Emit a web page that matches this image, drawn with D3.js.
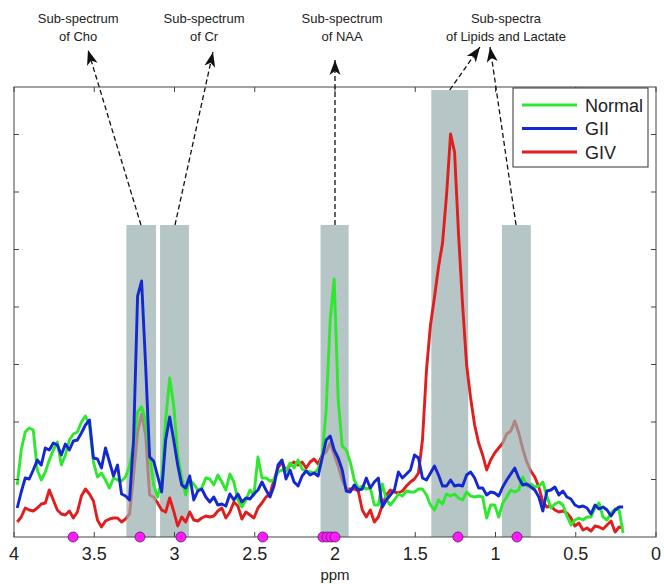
<!DOCTYPE html>
<html>
<head>
<meta charset="utf-8">
<script src="https://cdn.jsdelivr.net/npm/d3@7"></script>
<style>
  body { margin: 0; background: #fff; }
  svg { display: block; }
  text { font-family: "Liberation Sans", Arial, sans-serif; fill: #222; }
</style>
</head>
<body>
<div id="chart"></div>
<script>
// sampling grid of the spectra (ppm), 3.98 down to 0.205
var ppm = d3.range(0, 152).map(function(i) { return +(3.98 - 0.025 * i).toFixed(3); });

// intensities (a.u.)
var normal = [
  5.2, 8.7, 10.5, 10.9, 10.7, 6.7, 5.7, 6.5, 7.7, 8.7,
  9.5, 7.2, 8.2, 9.7, 10.3, 10.5, 11.5, 12.1, 11.2, 7.5,
  6.0, 6.4, 5.7, 4.9, 5.9, 5.7, 5.6, 6.0, 7.1, 9.2,
  12.5, 13.0, 11.7, 8.2, 5.2, 4.0, 5.7, 11.7, 15.9, 13.2,
  8.2, 5.9, 4.2, 5.7, 5.3, 4.7, 4.9, 5.9, 5.8, 5.2,
  6.2, 5.5, 4.7, 6.3, 5.5, 3.7, 3.0, 3.7, 4.7, 4.2,
  8.0, 5.9, 5.9, 5.6, 5.7, 6.5, 6.7, 6.6, 7.4, 6.9,
  7.7, 6.8, 6.6, 6.5, 6.4, 6.8, 8.0, 12.7, 21.7, 25.8,
  13.7, 9.1, 8.7, 7.5, 5.7, 4.9, 5.1, 4.8, 4.9, 3.2,
  3.2, 5.3, 3.7, 3.2, 3.7, 4.3, 4.1, 4.6, 4.5, 4.5,
  4.8, 4.8, 4.2, 3.2, 2.7, 3.7, 3.3, 4.3, 4.1, 4.3,
  3.9, 3.7, 4.5, 4.1, 4.0, 4.1, 4.0, 1.9, 3.2, 3.2,
  2.0, 3.4, 4.0, 4.7, 4.5, 4.7, 6.0, 5.1, 5.3, 5.0,
  5.1, 5.5, 4.1, 2.9, 3.3, 3.5, 3.2, 2.1, 1.2, 1.7,
  1.9, 1.7, 2.0, 2.0, 2.9, 3.4, 2.0, 1.7, 2.4, 2.8,
  2.7, 0.4
];
var gii = [
  2.9, 4.5, 5.9, 5.8, 6.7, 7.7, 7.2, 8.9, 8.7, 9.4,
  9.2, 8.2, 9.3, 8.7, 9.6, 9.7, 10.4, 11.2, 11.7, 7.9,
  7.8, 6.9, 8.9, 7.5, 6.1, 7.2, 4.3, 4.1, 3.7, 9.7,
  24.1, 25.6, 17.2, 8.0, 7.6, 6.1, 4.5, 9.7, 12.0, 9.7,
  7.2, 5.2, 4.9, 6.1, 3.7, 4.6, 4.8, 4.0, 3.5, 4.0,
  3.2, 3.3, 3.1, 4.3, 3.7, 4.3, 3.5, 3.9, 3.8, 4.3,
  4.7, 5.5, 4.7, 4.0, 5.1, 7.2, 7.7, 5.8, 6.7, 5.5,
  5.1, 6.1, 6.6, 6.2, 6.4, 6.1, 7.9, 9.7, 10.1, 8.7,
  7.9, 6.7, 4.6, 4.5, 5.2, 4.7, 4.8, 5.9, 4.9, 5.5,
  5.9, 3.0, 3.7, 4.2, 4.7, 6.5, 5.9, 6.3, 6.7, 8.2,
  7.9, 5.9, 5.7, 6.4, 7.1, 6.2, 5.1, 5.1, 5.7, 5.1,
  5.2, 5.1, 6.2, 6.5, 5.9, 4.9, 4.9, 4.2, 4.5, 4.4,
  4.1, 5.0, 5.7, 6.3, 6.9, 5.9, 5.2, 5.3, 5.0, 4.7,
  4.0, 2.6, 4.6, 4.7, 5.0, 4.2, 4.6, 4.0, 3.8, 3.2,
  3.0, 3.1, 2.9, 2.3, 3.2, 2.8, 3.0, 2.7, 2.1, 2.7,
  3.0, 3.0
];
var giv = [
  1.5, 2.0, 2.9, 2.7, 2.6, 2.9, 3.3, 3.4, 4.7, 3.7,
  2.7, 2.3, 2.2, 2.6, 1.9, 2.5, 4.1, 4.8, 4.3, 3.6,
  1.7, 1.0, 1.6, 1.8, 1.9, 1.9, 1.5, 1.8, 2.3, 6.2,
  10.5, 12.3, 10.2, 4.2, 4.0, 3.4, 2.7, 2.5, 3.9, 2.6,
  1.1, 2.0, 1.5, 2.5, 1.7, 1.6, 1.9, 2.1, 2.0, 2.1,
  2.6, 2.9, 1.9, 2.5, 3.5, 3.1, 1.8, 2.5, 2.2, 1.9,
  2.9, 3.4, 4.0, 4.3, 5.7, 6.9, 7.5, 6.6, 7.2, 7.5,
  7.2, 7.5, 6.9, 7.5, 7.8, 7.3, 8.2, 8.5, 9.4, 8.2,
  7.1, 5.7, 4.8, 4.8, 4.8, 4.6, 2.7, 2.0, 2.7, 1.5,
  2.0, 3.2, 4.2, 4.7, 4.5, 4.4, 4.6, 5.1, 5.5, 5.8,
  6.4, 9.7, 16.7, 21.2, 24.0, 27.0, 29.4, 34.2, 40.3, 38.5,
  30.2, 23.2, 17.2, 13.9, 11.2, 9.4, 8.2, 6.7, 7.7, 8.4,
  8.9, 9.4, 10.3, 10.6, 11.6, 10.4, 8.8, 7.5, 6.6, 6.0,
  5.0, 3.5, 3.0, 3.1, 2.7, 2.5, 2.6, 2.4, 1.9, 1.1,
  1.4, 0.7, 0.9, 0.6, 1.1, 1.0, 0.8, 1.2, 1.6, 0.5,
  1.0, 0.9
];

var seriesNames = ["Normal", "GII", "GIV"];
var seriesColors = ["#2ee82e", "#1428d2", "#e01e1e"];

// sub-spectrum windows
var bandStart = [3.30, 3.09, 2.09, 1.40, 0.96];
var bandEnd   = [3.115, 2.91, 1.915, 1.17, 0.78];
var bandTop   = [31.2, 31.2, 31.2, 44.7, 31.2];
var bandAbove = [true, false, true, false, true];   // drawn over the GIV line

// selected features on the ppm axis
var markerPpm = [3.632, 3.215, 2.96, 2.45, 2.075, 2.05, 2.025, 2.0, 1.234, 0.866];

// annotations: label lines, label centre (ppm), arrows (from band top to tip)
var labelLines = [["Sub-spectrum", "of Cho"], ["Sub-spectrum", "of Cr"], ["Sub-spectrum", "of NAA"], ["Sub-spectra", "of Lipids and Lactate"]];
var labelPpm = [3.60, 2.816, 1.956, 0.935];
var arrowFrom = [[3.209, 31.2], [2.997, 31.2], [2.0, 31.2], [1.285, 44.7], [0.872, 31.2]];
var arrowTo   = [[3.539, 48.7], [2.760, 48.5], [2.0, 47.7], [1.097, 49.0], [1.034, 49.0]];

var xTicks = [4, 3.5, 3, 2.5, 2, 1.5, 1, 0.5, 0];
var yTicks = [5.75, 11.5, 17.25, 23, 28.75, 34.5, 40.25];

var width = 664, height = 584;
var margin = {top: 87, right: 8, bottom: 47, left: 14};

var x = d3.scaleLinear().domain([4, 0]).range([margin.left, width - margin.right]);
var y = d3.scaleLinear().domain([0, 45]).range([height - margin.bottom, margin.top]);

var svg = d3.select("#chart").append("svg")
  .attr("width", width)
  .attr("height", height);

svg.append("defs").append("marker")
  .attr("id", "head")
  .attr("markerUnits", "userSpaceOnUse")
  .attr("viewBox", "-16 -6 18 12")
  .attr("markerWidth", 18).attr("markerHeight", 12)
  .attr("refX", 0).attr("refY", 0)
  .attr("orient", "auto")
  .append("path")
  .attr("d", "M0,0 L-15,-5.5 L-11,0 L-15,5.5 Z")
  .attr("fill", "#111");

var bands = bandStart.map(function(s, i) {
  return {s: s, e: bandEnd[i], top: bandTop[i], above: bandAbove[i]};
});

function drawBands(list, fill, op) {
  svg.append("g").selectAll("rect")
    .data(list).enter().append("rect")
    .attr("x", function(d) { return x(d.s); })
    .attr("y", function(d) { return y(d.top); })
    .attr("width", function(d) { return x(d.e) - x(d.s); })
    .attr("height", function(d) { return y(0) - y(d.top); })
    .attr("fill", fill)
    .attr("opacity", op);
}

var line = d3.line()
  .x(function(d, i) { return x(ppm[i]); })
  .y(function(d) { return y(d); });

function drawSpectrum(values, color) {
  svg.append("path")
    .datum(values)
    .attr("d", line)
    .attr("fill", "none")
    .attr("stroke", color)
    .attr("stroke-width", 2.9)
    .attr("stroke-linejoin", "round");
}

drawBands(bands.filter(function(d) { return !d.above; }), "#b6c6c6", 1);
drawSpectrum(giv, seriesColors[2]);
drawBands(bands.filter(function(d) { return d.above; }), "#97aeae", 0.7);
drawSpectrum(normal, seriesColors[0]);
drawSpectrum(gii, seriesColors[1]);

/*------------------------------ axes box ------------------------------*/
var axisColor = "#444";
svg.append("rect")
  .attr("x", x(4)).attr("y", y(45))
  .attr("width", x(0) - x(4)).attr("height", y(0) - y(45))
  .attr("fill", "none").attr("stroke", axisColor).attr("stroke-width", 1);

var tk = svg.append("g").attr("stroke", axisColor).attr("stroke-width", 1);
xTicks.forEach(function(t) {
  tk.append("line").attr("x1", x(t)).attr("x2", x(t)).attr("y1", y(0)).attr("y2", y(0) - 5);
  tk.append("line").attr("x1", x(t)).attr("x2", x(t)).attr("y1", y(45)).attr("y2", y(45) + 5);
});
yTicks.forEach(function(t) {
  tk.append("line").attr("x1", x(4)).attr("x2", x(4) + 5).attr("y1", y(t)).attr("y2", y(t));
  tk.append("line").attr("x1", x(0)).attr("x2", x(0) - 5).attr("y1", y(t)).attr("y2", y(t));
});

svg.append("g").selectAll("text")
  .data(xTicks).enter().append("text")
  .attr("x", function(d) { return x(d); })
  .attr("y", y(0) + 23)
  .attr("text-anchor", "middle")
  .attr("font-size", 18)
  .text(function(d) { return d; });

svg.append("text")
  .attr("x", x(2))
  .attr("y", y(0) + 43)
  .attr("text-anchor", "middle")
  .attr("font-size", 15)
  .text("ppm");

// feature markers sitting on the axis
svg.append("g").selectAll("circle")
  .data(markerPpm).enter().append("circle")
  .attr("cx", function(d) { return x(d); })
  .attr("cy", y(0))
  .attr("r", 5)
  .attr("fill", "#ff1aff")
  .attr("stroke", "#5a1a5a")
  .attr("stroke-width", 0.8);

/*------------------------------ annotations ------------------------------*/
svg.append("g").selectAll("line")
  .data(arrowFrom).enter().append("line")
  .attr("x1", function(d) { return x(d[0]); })
  .attr("y1", function(d) { return y(d[1]); })
  .attr("x2", function(d, i) { return x(arrowTo[i][0]); })
  .attr("y2", function(d, i) { return y(arrowTo[i][1]); })
  .attr("stroke", "#111")
  .attr("stroke-width", 1.3)
  .attr("stroke-dasharray", "5,3")
  .attr("marker-end", "url(#head)");

var labels = svg.append("g").selectAll("text")
  .data(labelLines).enter().append("text")
  .attr("text-anchor", "middle")
  .attr("font-size", 13);
labels.selectAll("tspan")
  .data(function(d, i) { return d.map(function(t) { return {t: t, i: i}; }); })
  .enter().append("tspan")
  .attr("x", function(d) { return x(labelPpm[d.i]); })
  .attr("y", function(d, j) { return 23 + j * 18; })
  .text(function(d) { return d.t; });

/*------------------------------ legend ------------------------------*/
var legend = svg.append("g").attr("transform", "translate(513,88)");
legend.append("rect")
  .attr("width", 135).attr("height", 79)
  .attr("fill", "#fff").attr("stroke", "#333").attr("stroke-width", 1);
var item = legend.selectAll(".item")
  .data(seriesNames).enter().append("g")
  .attr("transform", function(d, i) { return "translate(0," + (17 + i * 23.5) + ")"; });
item.append("line")
  .attr("x1", 9).attr("x2", 64)
  .attr("stroke", function(d, i) { return seriesColors[i]; })
  .attr("stroke-width", 3);
item.append("text")
  .attr("x", 72).attr("y", 6.5)
  .attr("font-size", 18)
  .text(function(d) { return d; });
</script>
</body>
</html>
